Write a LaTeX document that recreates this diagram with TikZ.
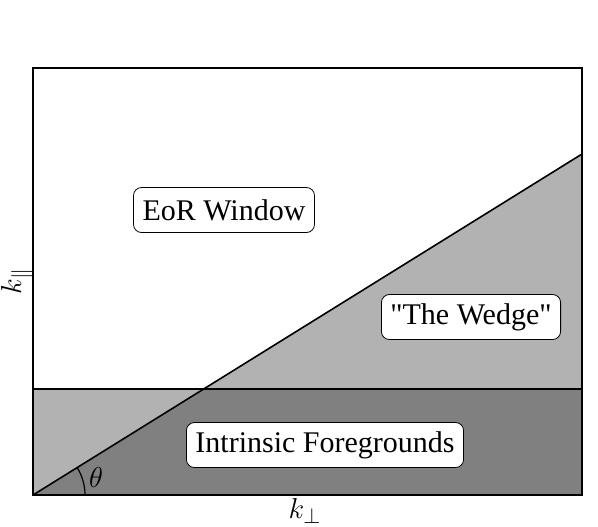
\documentclass[tikz,border=0pt]{standalone}
\usepackage{fontspec}
\setmainfont{Liberation Serif}[Ligatures=TeXOff]
\usetikzlibrary{calc,positioning}

\tikzset{
  regionlabel/.style={draw,rounded corners=4pt,fill=white,inner xsep=4.5pt,
    minimum height=22.5pt,font=\fontsize{15}{18}\selectfont},
  axislabel/.style={font=\fontsize{15.5}{18}\selectfont,inner sep=1pt}
}

\begin{document}
\begin{tikzpicture}[x=0.5pt,y=-0.5pt]
\useasboundingbox (0,0) rectangle (598,526);
% corners of the plot
\coordinate (o) at (33,495);
\coordinate (br) at (582,495);
\coordinate (tr) at (582,68);
\coordinate (tl) at (33,68);
\coordinate (hl) at (33,389);
\coordinate (hr) at (582,389);
\coordinate (wt) at (582,154);
\coordinate (cut) at (203.6,389);

% shaded regions
\fill[black!30] (o) -- (wt) -- (br) -- cycle;
\fill[black!30] (o) -- (cut) -- (hl) -- cycle;
\fill[black!50] (o) -- (cut) -- (hr) -- (br) -- cycle;

\draw[thick] (tl) rectangle (br);
\draw[thick] (hl) -- (hr);
\draw[thick] (o) -- (wt);

% angle
\draw[semithick] (85,495) arc[start angle=0,end angle=-31.8,radius=52];
\node[axislabel] (th) at (96,477) {$\theta$};

\node[regionlabel] (eor) at (224,210) {EoR Window};
\node[regionlabel] (wedge) at (471,317) {"The Wedge"};
\node[regionlabel] (fg) at (325,445) {Intrinsic Foregrounds};

\node[axislabel,rotate=90] (kpar) at (17,281) {$k_\parallel$};
\node[axislabel] (kperp) at (305,511) {$k_\perp$};
\end{tikzpicture}
\end{document}
